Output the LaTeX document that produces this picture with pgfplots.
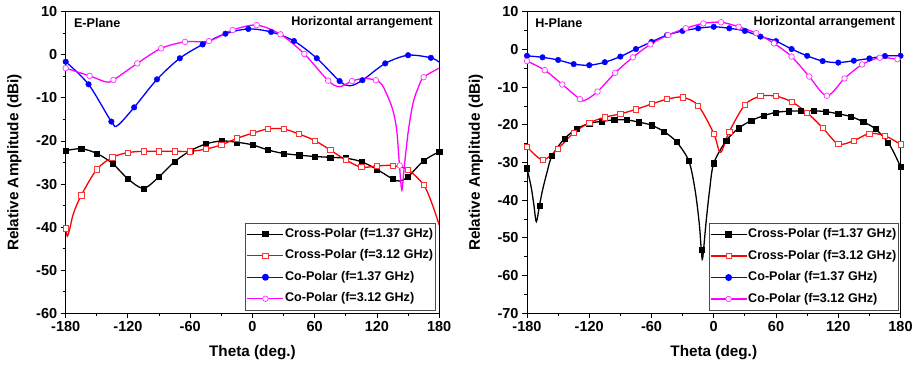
\documentclass[border=0pt]{standalone}
\usepackage{fontspec}
\setmainfont{Liberation Sans}
\usepackage{pgfplots}
\pgfplotsset{compat=1.18}
\definecolor{cmag}{RGB}{255,0,255}
\definecolor{cred}{RGB}{255,0,0}
\definecolor{cblu}{RGB}{0,0,255}
\tikzset{txt/.style={font=\fontsize{12.6}{13}\selectfont\bfseries}}
\pgfplotsset{
  myax/.style={
    scale only axis, width=373.5pt, height=301.6pt,
    xmin=-180, xmax=180, xtick={-180,-120,...,180}, minor x tick num=1,
    ymax=10, minor y tick num=1,
    tick pos=left, tick align=outside,
    major tick length=5pt, minor tick length=3pt,
    axis line style={line width=0.9pt},
    every tick/.style={black, line width=0.9pt},
    /pgf/number format/assume math mode=true,
    ticklabel style={font=\fontsize{14.5}{15}\selectfont\bfseries},
    xlabel={Theta (deg.)}, ylabel={Relative Amplitude (dBi)},
    label style={font=\fontsize{15.3}{16}\selectfont\bfseries},
    xlabel style={at={(axis description cs:0.5,-0.129)}, anchor=center},
    ylabel style={at={(axis description cs:-0.137,0.5)}, anchor=center},
    legend style={font=\fontsize{12.6}{13}\selectfont\bfseries, draw=black!70, line width=0.6pt,
      at={(axis description cs:0.99,0.01)}, anchor=south east,
      inner xsep=1pt, inner ysep=4pt, row sep=7pt,
      nodes={inner sep=1pt, text height=9.5pt, text depth=3pt}},
    legend cell align=left,
    legend image code/.code={\draw[mark repeat=2,mark phase=2] plot coordinates {(0pt,0pt) (18pt,0pt) (36pt,0pt)};},
  },
  sblk/.style={black, line width=1.3pt},
  sred/.style={cred, line width=1.3pt},
  sblu/.style={cblu, line width=1.3pt},
  smag/.style={cmag, line width=1.3pt},
  mblk/.style={black, mark=square*, mark size=2.6pt, mark options={solid, fill=black}},
  mred/.style={cred, mark=square*, mark size=2.6pt, mark options={solid, fill=white, line width=0.7pt, draw=cred!80}},
  mblu/.style={cblu, mark=*, mark size=2.8pt, mark options={solid, fill=cblu}},
  mmag/.style={cmag, mark=*, mark size=2.8pt, mark options={solid, fill=white, line width=0.7pt, draw=cmag!80}},
}
\begin{document}
\begin{tikzpicture}
\useasboundingbox (0,0) rectangle (918pt,365pt);
% ---------------- E-Plane ----------------
\begin{axis}[myax, at={(65.7pt,51.7pt)}, anchor=south west, ymin=-60, ytick={-60,-50,...,10}]
% Cross-Polar 1.37
\addplot[sblk, smooth, forget plot] coordinates {(-180,-22.25)(-165,-21.8)(-150,-22.9)(-135,-25.2)(-120,-28.8)(-105,-31.0)(-90,-28.3)(-75,-24.8)(-60,-22.3)(-45,-20.7)(-30,-20.0)(-15,-20.3)(0,-20.9)(15,-22.1)(30,-22.9)(45,-23.3)(60,-23.6)(75,-23.8)(90,-24.0)(105,-24.8)(120,-26.6)(135,-28.8)(142,-29.3)(150,-28.3)(165,-24.6)(180,-22.5)};
\addplot[mblk, only marks, forget plot] coordinates {(-180,-22.25)(-165,-21.8)(-150,-22.9)(-135,-25.2)(-120,-28.8)(-105,-31.0)(-90,-28.3)(-75,-24.8)(-60,-22.3)(-45,-20.7)(-30,-20.0)(-15,-20.3)(0,-20.9)(15,-22.1)(30,-22.9)(45,-23.3)(60,-23.6)(75,-23.8)(90,-24.0)(105,-24.8)(120,-26.6)(135,-28.8)(150,-28.3)(165,-24.6)(180,-22.5)};
% Cross-Polar 3.12
\addplot[sred, smooth, forget plot] coordinates {(-180,-40.3)(-178.5,-42.1)(-176,-40.3)(-172.5,-36.8)(-165,-32.6)(-150,-26.6)(-135,-23.8)(-120,-22.7)(-105,-22.4)(-90,-22.4)(-75,-22.4)(-60,-22.4)(-45,-21.9)(-30,-20.9)(-15,-19.4)(0,-18.2)(15,-17.2)(30,-17.2)(45,-18.4)(60,-19.9)(75,-22.1)(90,-24.4)(105,-26.1)(120,-25.8)(135,-25.7)(150,-26.7)(165,-30.2)(173,-34.5)(180,-39.5)};
\addplot[mred, only marks, forget plot] coordinates {(-180,-40.3)(-165,-32.6)(-150,-26.6)(-135,-23.8)(-120,-22.7)(-105,-22.4)(-90,-22.4)(-75,-22.4)(-60,-22.4)(-45,-21.9)(-30,-20.9)(-15,-19.4)(0,-18.2)(15,-17.2)(30,-17.2)(45,-18.4)(60,-19.9)(75,-22.1)(90,-24.4)(105,-26.1)(120,-25.8)(135,-25.7)(150,-26.7)(165,-30.2)};
% Co-Polar 1.37
\addplot[sblu, smooth, forget plot] coordinates {(-180,-1.6)(-158,-6.85)(-136,-15.5)(-130,-16.4)(-114,-12.2)(-92,-5.7)(-70,-0.8)(-48,2.4)(-26,4.9)(-4,6.0)(18,5.3)(40,3.2)(62,-0.8)(84,-6.1)(94,-7.2)(106,-5.9)(128,-2.0)(150,-0.1)(172,-0.7)(180,-1.7)};
\addplot[mblu, only marks, forget plot] coordinates {(-180,-1.6)(-158,-6.85)(-136,-15.5)(-114,-12.2)(-92,-5.7)(-70,-0.8)(-48,2.4)(-26,4.9)(-4,6.0)(18,5.3)(40,3.2)(62,-0.8)(84,-6.1)(106,-5.9)(128,-2.0)(150,-0.1)(172,-0.7)};
% Co-Polar 3.12
\addplot[smag, smooth, forget plot] coordinates {(-180,-3.1)(-157,-4.9)(-141,-6.3)(-134,-5.85)(-111,-2.0)(-88,1.5)(-65,3.0)(-42,3.2)(-19,5.75)(4,6.9)(27,4.75)(50,0.2)(73,-6.0)(84,-7.4)(96,-6.1)(107,-5.5)(119,-5.9)(125,-7.0)(131,-10.0)(135.5,-13.0)(139,-17.4)(141.7,-25.6)(144,-31.4)(146.5,-25.6)(150.4,-17.4)(155,-11)(160,-7.5)(165,-5.2)(180,-3.1)};
\addplot[mmag, only marks, forget plot] coordinates {(-180,-3.1)(-157,-4.9)(-134,-5.85)(-111,-2.0)(-88,1.5)(-65,3.0)(-42,3.2)(-19,5.75)(4,6.9)(27,4.75)(50,0.2)(73,-6.0)(96,-6.1)(119,-5.9)(142,-25.7)(165,-5.2)};
\addlegendimage{sblk, mblk}\addlegendentry{Cross-Polar (f=1.37 GHz)}
\addlegendimage{sred, mred}\addlegendentry{Cross-Polar (f=3.12 GHz)}
\addlegendimage{sblu, mblu}\addlegendentry{Co-Polar (f=1.37 GHz)}
\addlegendimage{smag, mmag}\addlegendentry{Co-Polar (f=3.12 GHz)}
\node[txt, anchor=west] at (axis description cs:0.013,0.964) {E-Plane};
\node[txt, anchor=east] at (axis description cs:0.992,0.964) {Horizontal arrangement};
\end{axis}
% ---------------- H-Plane ----------------
\begin{axis}[myax, at={(527pt,51.7pt)}, anchor=south west, ymin=-70, ytick={-70,-60,...,10},
  legend style={at={(axis description cs:0.995,0.009)}}]
% Cross-Polar 1.37
\addplot[sblk, smooth, forget plot] coordinates {(-180,-31.5)(-176,-36.5)(-173.5,-41)(-171,-45.7)(-168,-41.4)(-165,-37.3)(-161,-32.9)(-156,-28.3)(-144,-23.7)(-132,-21.1)(-120,-19.6)(-108,-19.1)(-96,-18.7)(-84,-18.7)(-72,-19.3)(-60,-20.1)(-48,-21.8)(-36,-24.5)(-24,-29.6)(-18,-37.3)(-14,-46.1)(-12,-53.2)(-10.7,-55.4)(-7.5,-46.1)(-4,-37.3)(0,-30.2)(12,-24.2)(24,-20.9)(36,-18.9)(48,-17.6)(60,-16.7)(72,-16.4)(84,-16.3)(96,-16.3)(108,-16.5)(120,-17.1)(132,-17.8)(144,-19.2)(156,-21.1)(168,-24.7)(174,-27.6)(180,-31.1)};
\addplot[mblk, only marks, forget plot] coordinates {(-180,-31.5)(-168,-41.4)(-156,-28.3)(-144,-23.7)(-132,-21.1)(-120,-19.6)(-108,-19.1)(-96,-18.7)(-84,-18.7)(-72,-19.3)(-60,-20.1)(-48,-21.8)(-36,-24.5)(-24,-29.6)(-12,-53.2)(0,-30.2)(12,-24.2)(24,-20.9)(36,-18.9)(48,-17.6)(60,-16.7)(72,-16.4)(84,-16.3)(96,-16.3)(108,-16.5)(120,-17.1)(132,-17.8)(144,-19.2)(156,-21.1)(168,-24.7)(180,-31.1)};
% Cross-Polar 3.12
\addplot[sred, smooth, forget plot] coordinates {(-180,-25.8)(-165,-29.3)(-150,-26.3)(-135,-22.1)(-120,-19.5)(-105,-18.0)(-90,-17.1)(-75,-15.9)(-60,-14.5)(-45,-13.2)(-30,-12.7)(-15,-14.9)(0,-22.3)(6.5,-27.3)(15,-21.8)(30,-14.7)(45,-12.4)(60,-12.4)(75,-13.9)(90,-16.8)(105,-20.8)(120,-25.1)(135,-24.2)(150,-22.3)(165,-22.9)(180,-25.2)};
\addplot[mred, only marks, forget plot] coordinates {(-180,-25.8)(-165,-29.3)(-150,-26.3)(-135,-22.1)(-120,-19.5)(-105,-18.0)(-90,-17.1)(-75,-15.9)(-60,-14.5)(-45,-13.2)(-30,-12.7)(-15,-14.9)(0,-22.3)(15,-21.8)(30,-14.7)(45,-12.4)(60,-12.4)(75,-13.9)(90,-16.8)(105,-20.8)(120,-25.1)(135,-24.2)(150,-22.3)(165,-22.9)(180,-25.2)};
% Co-Polar 1.37
\addplot[sblu, smooth, forget plot] coordinates {(-180,-1.7)(-165,-2.1)(-150,-2.8)(-135,-3.9)(-120,-4.2)(-105,-3.4)(-90,-1.9)(-75,0.1)(-60,2.0)(-45,3.8)(-30,4.9)(-15,5.6)(0,6.0)(15,5.6)(30,4.9)(45,3.4)(60,2.2)(75,0.1)(90,-1.7)(105,-3.1)(120,-3.5)(135,-3.0)(150,-2.4)(165,-1.75)(180,-1.7)};
\addplot[mblu, only marks, forget plot] coordinates {(-180,-1.7)(-165,-2.1)(-150,-2.8)(-135,-3.9)(-120,-4.2)(-105,-3.4)(-90,-1.9)(-75,0.1)(-60,2.0)(-45,3.8)(-30,4.9)(-15,5.6)(0,6.0)(15,5.6)(30,4.9)(45,3.4)(60,2.2)(75,0.1)(90,-1.7)(105,-3.1)(120,-3.5)(135,-3.0)(150,-2.4)(165,-1.75)(180,-1.7)};
% Co-Polar 3.12
\addplot[smag, smooth, forget plot] coordinates {(-180,-3.1)(-163,-5.5)(-146,-9.3)(-129,-13.2)(-124,-13.5)(-112,-11.2)(-95,-6.2)(-78,-2.1)(-61,1.35)(-44,3.8)(-27,5.6)(-10,6.9)(7,7.2)(24,6.0)(41,4.3)(58,1.6)(75,-1.9)(92,-7.2)(109,-12.3)(126,-7.7)(143,-4.0)(160,-2.2)(177,-2.6)(180,-2.7)};
\addplot[mmag, only marks, forget plot] coordinates {(-180,-3.1)(-163,-5.5)(-146,-9.3)(-129,-13.2)(-112,-11.2)(-95,-6.2)(-78,-2.1)(-61,1.35)(-44,3.8)(-27,5.6)(-10,6.9)(7,7.2)(24,6.0)(41,4.3)(58,1.6)(75,-1.9)(92,-7.2)(109,-12.3)(126,-7.7)(143,-4.0)(160,-2.2)(177,-2.6)};
\addlegendimage{sblk, mblk}\addlegendentry{Cross-Polar (f=1.37 GHz)}
\addlegendimage{sred, mred}\addlegendentry{Cross-Polar (f=3.12 GHz)}
\addlegendimage{sblu, mblu}\addlegendentry{Co-Polar (f=1.37 GHz)}
\addlegendimage{smag, mmag}\addlegendentry{Co-Polar (f=3.12 GHz)}
\node[txt, anchor=west] at (axis description cs:0.013,0.964) {H-Plane};
\node[txt, anchor=east] at (axis description cs:0.995,0.964) {Horizontal arrangement};
\end{axis}
\end{tikzpicture}
\end{document}
